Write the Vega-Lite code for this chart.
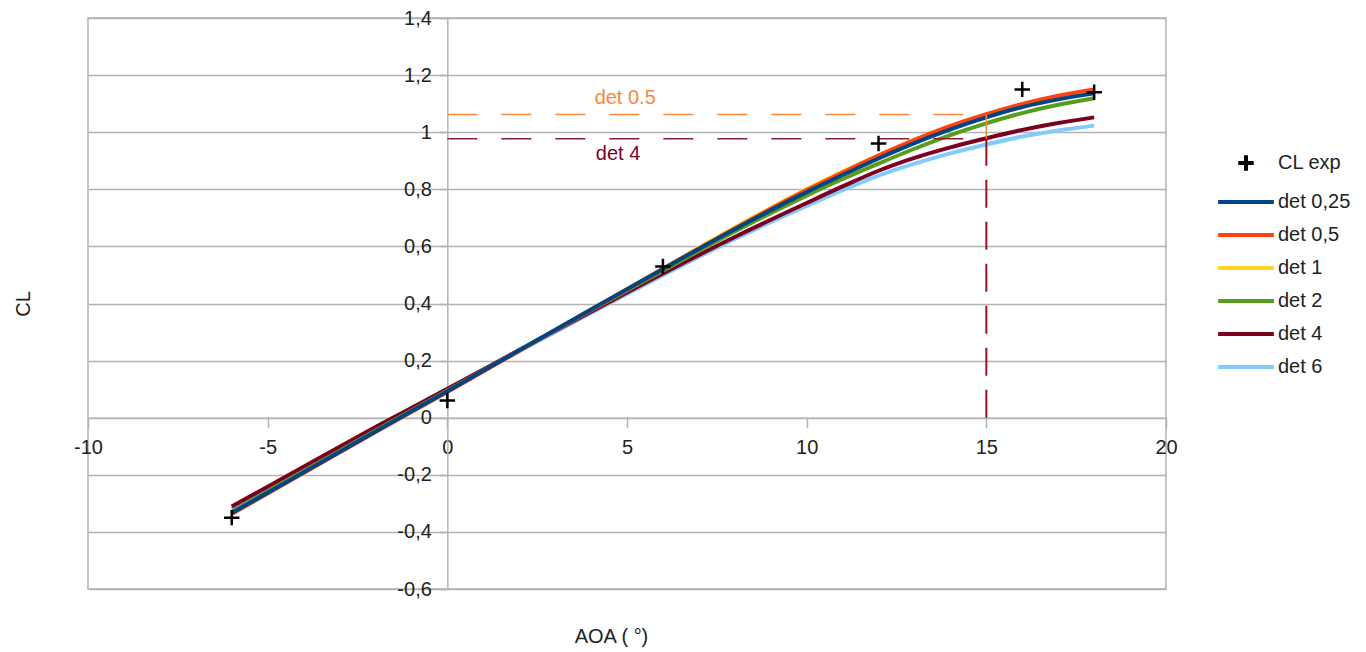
{
  "$schema": "https://vega.github.io/schema/vega-lite/v6.json",
  "width": 1078,
  "height": 571,
  "autosize": {"type": "none"},
  "padding": {"left": 88, "top": 18, "right": 200, "bottom": 63},
  "background": "white",
  "config": {
    "font": "Liberation Sans",
    "view": {"stroke": "#b3b3b3", "strokeWidth": 1.5},
    "axis": {
      "labelFont": "Liberation Sans", "labelFontSize": 20, "labelColor": "#222222",
      "titleFont": "Liberation Sans", "titleFontSize": 20, "titleFontWeight": "normal", "titleColor": "#222222",
      "domainColor": "#b3b3b3", "domainWidth": 1.5, "tickColor": "#b3b3b3", "tickWidth": 1.5,
      "gridColor": "#b3b3b3", "gridWidth": 1.5, "gridOpacity": 1,
      "labelFlush": false, "labelOverlap": false, "labelBound": false
    },
    "legend": {
      "labelFont": "Liberation Sans", "labelFontSize": 20, "labelColor": "#222222",
      "symbolSize": 240, "symbolStrokeWidth": 4, "labelOffset": 22, "rowPadding": 13, "padding": 0
    }
  },
  "datasets": {
    "curves": [
      {"series": "det 6", "aoa": -6, "cl": -0.32}, {"series": "det 6", "aoa": -4, "cl": -0.178}, {"series": "det 6", "aoa": -2, "cl": -0.038}, {"series": "det 6", "aoa": 0, "cl": 0.098}, {"series": "det 6", "aoa": 2, "cl": 0.233}, {"series": "det 6", "aoa": 4, "cl": 0.367}, {"series": "det 6", "aoa": 6, "cl": 0.499}, {"series": "det 6", "aoa": 8, "cl": 0.626}, {"series": "det 6", "aoa": 10, "cl": 0.742}, {"series": "det 6", "aoa": 11, "cl": 0.797}, {"series": "det 6", "aoa": 12, "cl": 0.848}, {"series": "det 6", "aoa": 13, "cl": 0.89}, {"series": "det 6", "aoa": 14, "cl": 0.926}, {"series": "det 6", "aoa": 15, "cl": 0.957}, {"series": "det 6", "aoa": 16, "cl": 0.985}, {"series": "det 6", "aoa": 17, "cl": 1.006}, {"series": "det 6", "aoa": 18, "cl": 1.023},
      {"series": "det 4", "aoa": -6, "cl": -0.311}, {"series": "det 4", "aoa": -4, "cl": -0.172}, {"series": "det 4", "aoa": -2, "cl": -0.033}, {"series": "det 4", "aoa": 0, "cl": 0.101}, {"series": "det 4", "aoa": 2, "cl": 0.237}, {"series": "det 4", "aoa": 4, "cl": 0.371}, {"series": "det 4", "aoa": 6, "cl": 0.505}, {"series": "det 4", "aoa": 8, "cl": 0.633}, {"series": "det 4", "aoa": 10, "cl": 0.752}, {"series": "det 4", "aoa": 11, "cl": 0.81}, {"series": "det 4", "aoa": 12, "cl": 0.865}, {"series": "det 4", "aoa": 13, "cl": 0.91}, {"series": "det 4", "aoa": 14, "cl": 0.947}, {"series": "det 4", "aoa": 15, "cl": 0.979}, {"series": "det 4", "aoa": 16, "cl": 1.008}, {"series": "det 4", "aoa": 17, "cl": 1.032}, {"series": "det 4", "aoa": 18, "cl": 1.052},
      {"series": "det 2", "aoa": -6, "cl": -0.329}, {"series": "det 2", "aoa": -4, "cl": -0.187}, {"series": "det 2", "aoa": -2, "cl": -0.045}, {"series": "det 2", "aoa": 0, "cl": 0.095}, {"series": "det 2", "aoa": 2, "cl": 0.236}, {"series": "det 2", "aoa": 4, "cl": 0.376}, {"series": "det 2", "aoa": 6, "cl": 0.515}, {"series": "det 2", "aoa": 8, "cl": 0.652}, {"series": "det 2", "aoa": 10, "cl": 0.778}, {"series": "det 2", "aoa": 11, "cl": 0.836}, {"series": "det 2", "aoa": 12, "cl": 0.89}, {"series": "det 2", "aoa": 13, "cl": 0.942}, {"series": "det 2", "aoa": 14, "cl": 0.99}, {"series": "det 2", "aoa": 15, "cl": 1.031}, {"series": "det 2", "aoa": 16, "cl": 1.067}, {"series": "det 2", "aoa": 17, "cl": 1.096}, {"series": "det 2", "aoa": 18, "cl": 1.119},
      {"series": "det 1", "aoa": -6, "cl": -0.335}, {"series": "det 1", "aoa": -4, "cl": -0.192}, {"series": "det 1", "aoa": -2, "cl": -0.049}, {"series": "det 1", "aoa": 0, "cl": 0.092}, {"series": "det 1", "aoa": 2, "cl": 0.235}, {"series": "det 1", "aoa": 4, "cl": 0.379}, {"series": "det 1", "aoa": 6, "cl": 0.523}, {"series": "det 1", "aoa": 8, "cl": 0.666}, {"series": "det 1", "aoa": 10, "cl": 0.8}, {"series": "det 1", "aoa": 11, "cl": 0.861}, {"series": "det 1", "aoa": 12, "cl": 0.919}, {"series": "det 1", "aoa": 13, "cl": 0.972}, {"series": "det 1", "aoa": 14, "cl": 1.019}, {"series": "det 1", "aoa": 15, "cl": 1.059}, {"series": "det 1", "aoa": 16, "cl": 1.094}, {"series": "det 1", "aoa": 17, "cl": 1.122}, {"series": "det 1", "aoa": 18, "cl": 1.143},
      {"series": "det 0,5", "aoa": -6, "cl": -0.337}, {"series": "det 0,5", "aoa": -4, "cl": -0.194}, {"series": "det 0,5", "aoa": -2, "cl": -0.05}, {"series": "det 0,5", "aoa": 0, "cl": 0.09}, {"series": "det 0,5", "aoa": 2, "cl": 0.234}, {"series": "det 0,5", "aoa": 4, "cl": 0.378}, {"series": "det 0,5", "aoa": 6, "cl": 0.521}, {"series": "det 0,5", "aoa": 8, "cl": 0.663}, {"series": "det 0,5", "aoa": 10, "cl": 0.797}, {"series": "det 0,5", "aoa": 11, "cl": 0.859}, {"series": "det 0,5", "aoa": 12, "cl": 0.918}, {"series": "det 0,5", "aoa": 13, "cl": 0.973}, {"series": "det 0,5", "aoa": 14, "cl": 1.022}, {"series": "det 0,5", "aoa": 15, "cl": 1.063}, {"series": "det 0,5", "aoa": 16, "cl": 1.099}, {"series": "det 0,5", "aoa": 17, "cl": 1.128}, {"series": "det 0,5", "aoa": 18, "cl": 1.15},
      {"series": "det 0,25", "aoa": -6, "cl": -0.334}, {"series": "det 0,25", "aoa": -4, "cl": -0.191}, {"series": "det 0,25", "aoa": -2, "cl": -0.048}, {"series": "det 0,25", "aoa": 0, "cl": 0.093}, {"series": "det 0,25", "aoa": 2, "cl": 0.236}, {"series": "det 0,25", "aoa": 4, "cl": 0.379}, {"series": "det 0,25", "aoa": 6, "cl": 0.521}, {"series": "det 0,25", "aoa": 8, "cl": 0.66}, {"series": "det 0,25", "aoa": 10, "cl": 0.79}, {"series": "det 0,25", "aoa": 11, "cl": 0.85}, {"series": "det 0,25", "aoa": 12, "cl": 0.908}, {"series": "det 0,25", "aoa": 13, "cl": 0.962}, {"series": "det 0,25", "aoa": 14, "cl": 1.01}, {"series": "det 0,25", "aoa": 15, "cl": 1.052}, {"series": "det 0,25", "aoa": 16, "cl": 1.088}, {"series": "det 0,25", "aoa": 17, "cl": 1.115}, {"series": "det 0,25", "aoa": 18, "cl": 1.136}
    ],
    "exp": [
      {"series": "CL exp", "aoa": -6, "cl": -0.35},
      {"series": "CL exp", "aoa": 0, "cl": 0.06},
      {"series": "CL exp", "aoa": 6, "cl": 0.53},
      {"series": "CL exp", "aoa": 12, "cl": 0.96},
      {"series": "CL exp", "aoa": 16, "cl": 1.15},
      {"series": "CL exp", "aoa": 18, "cl": 1.14}
    ]
  },
  "encoding": {
    "x": {
      "field": "aoa", "type": "quantitative",
      "scale": {"domain": [-10, 20], "nice": false, "zero": false},
      "axis": {
        "offset": -171.3, "grid": false, "values": [-10, -5, 0, 5, 10, 15, 20],
        "tickSize": 10, "labelPadding": 10,
        "labelExpr": "toString(datum.value)",
        "title": "AOA ( °)", "titleX": 523, "titleY": 219, "titleBaseline": "middle", "titleAlign": "center"
      }
    },
    "y": {
      "field": "cl", "type": "quantitative",
      "scale": {"domain": [-0.6, 1.4], "nice": false, "zero": false},
      "axis": {
        "offset": -359.33, "grid": true, "values": [-0.6, -0.4, -0.2, 0, 0.2, 0.4, 0.6, 0.8, 1, 1.2, 1.4],
        "tickSize": 8, "labelPadding": 8,
        "labelExpr": "replace(toString(round(datum.value * 10) / 10), '.', ',')",
        "title": "CL", "titleX": -424, "titleBaseline": "middle", "titleAngle": -90
      }
    }
  },
  "layer": [
    {
      "data": {"name": "curves"},
      "mark": {"type": "line", "interpolate": "monotone", "strokeWidth": 4},
      "encoding": {
        "color": {
          "field": "series", "type": "nominal",
          "scale": {
            "domain": ["CL exp", "det 0,25", "det 0,5", "det 1", "det 2", "det 4", "det 6"],
            "range": ["#000000", "#004586", "#ff420e", "#ffd320", "#579d1c", "#7e0021", "#83caff"]
          },
          "legend": {"title": null, "orient": "none", "legendX": 1148, "legendY": 135}
        }
      }
    },
    {
      "data": {"values": [{"aoa": 0, "aoa2": 15, "cl": 1.062}]},
      "mark": {"type": "rule", "color": "#f7883a", "strokeWidth": 1.6, "strokeDash": [30, 24]},
      "encoding": {"x2": {"field": "aoa2"}}
    },
    {
      "data": {"values": [{"aoa": 0, "aoa2": 15, "cl": 0.977}]},
      "mark": {"type": "rule", "color": "#8b1a33", "strokeWidth": 1.6, "strokeDash": [30, 24]},
      "encoding": {"x2": {"field": "aoa2"}}
    },
    {
      "data": {"values": [{"aoa": 15, "cl": 0.977, "cl2": 1.062}]},
      "mark": {"type": "rule", "color": "#f7883a", "strokeWidth": 1.6},
      "encoding": {"y2": {"field": "cl2"}}
    },
    {
      "data": {"values": [{"aoa": 15, "cl": 0, "cl2": 0.977}]},
      "mark": {"type": "rule", "color": "#a0101f", "strokeWidth": 2, "strokeDash": [28, 14]},
      "encoding": {"y2": {"field": "cl2"}}
    },
    {
      "data": {"values": [{"aoa": 4.95, "cl": 1.12, "label": "det 0.5"}]},
      "mark": {"type": "text", "color": "#f7883a", "fontSize": 20, "font": "Liberation Sans", "align": "center", "baseline": "middle"},
      "encoding": {"text": {"field": "label"}}
    },
    {
      "data": {"values": [{"aoa": 4.75, "cl": 0.925, "label": "det 4"}]},
      "mark": {"type": "text", "color": "#7e0021", "fontSize": 20, "font": "Liberation Sans", "align": "center", "baseline": "middle"},
      "encoding": {"text": {"field": "label"}}
    },
    {
      "data": {"name": "exp"},
      "mark": {"type": "point", "filled": false, "strokeWidth": 2.5, "size": 240, "opacity": 1},
      "encoding": {
        "color": {
          "field": "series", "type": "nominal",
          "scale": {
            "domain": ["CL exp", "det 0,25", "det 0,5", "det 1", "det 2", "det 4", "det 6"],
            "range": ["#000000", "#004586", "#ff420e", "#ffd320", "#579d1c", "#7e0021", "#83caff"]
          },
          "legend": {"title": null, "orient": "none", "legendX": 1148, "legendY": 135}
        },
        "shape": {
          "field": "series", "type": "nominal",
          "scale": {
            "domain": ["CL exp", "det 0,25", "det 0,5", "det 1", "det 2", "det 4", "det 6"],
            "range": ["M-1,0H1M0,-1V1", "M-3.6,0H3.6", "M-3.6,0H3.6", "M-3.6,0H3.6", "M-3.6,0H3.6", "M-3.6,0H3.6", "M-3.6,0H3.6"]
          },
          "legend": {"title": null, "orient": "none", "legendX": 1148, "legendY": 135}
        }
      }
    }
  ]
}
